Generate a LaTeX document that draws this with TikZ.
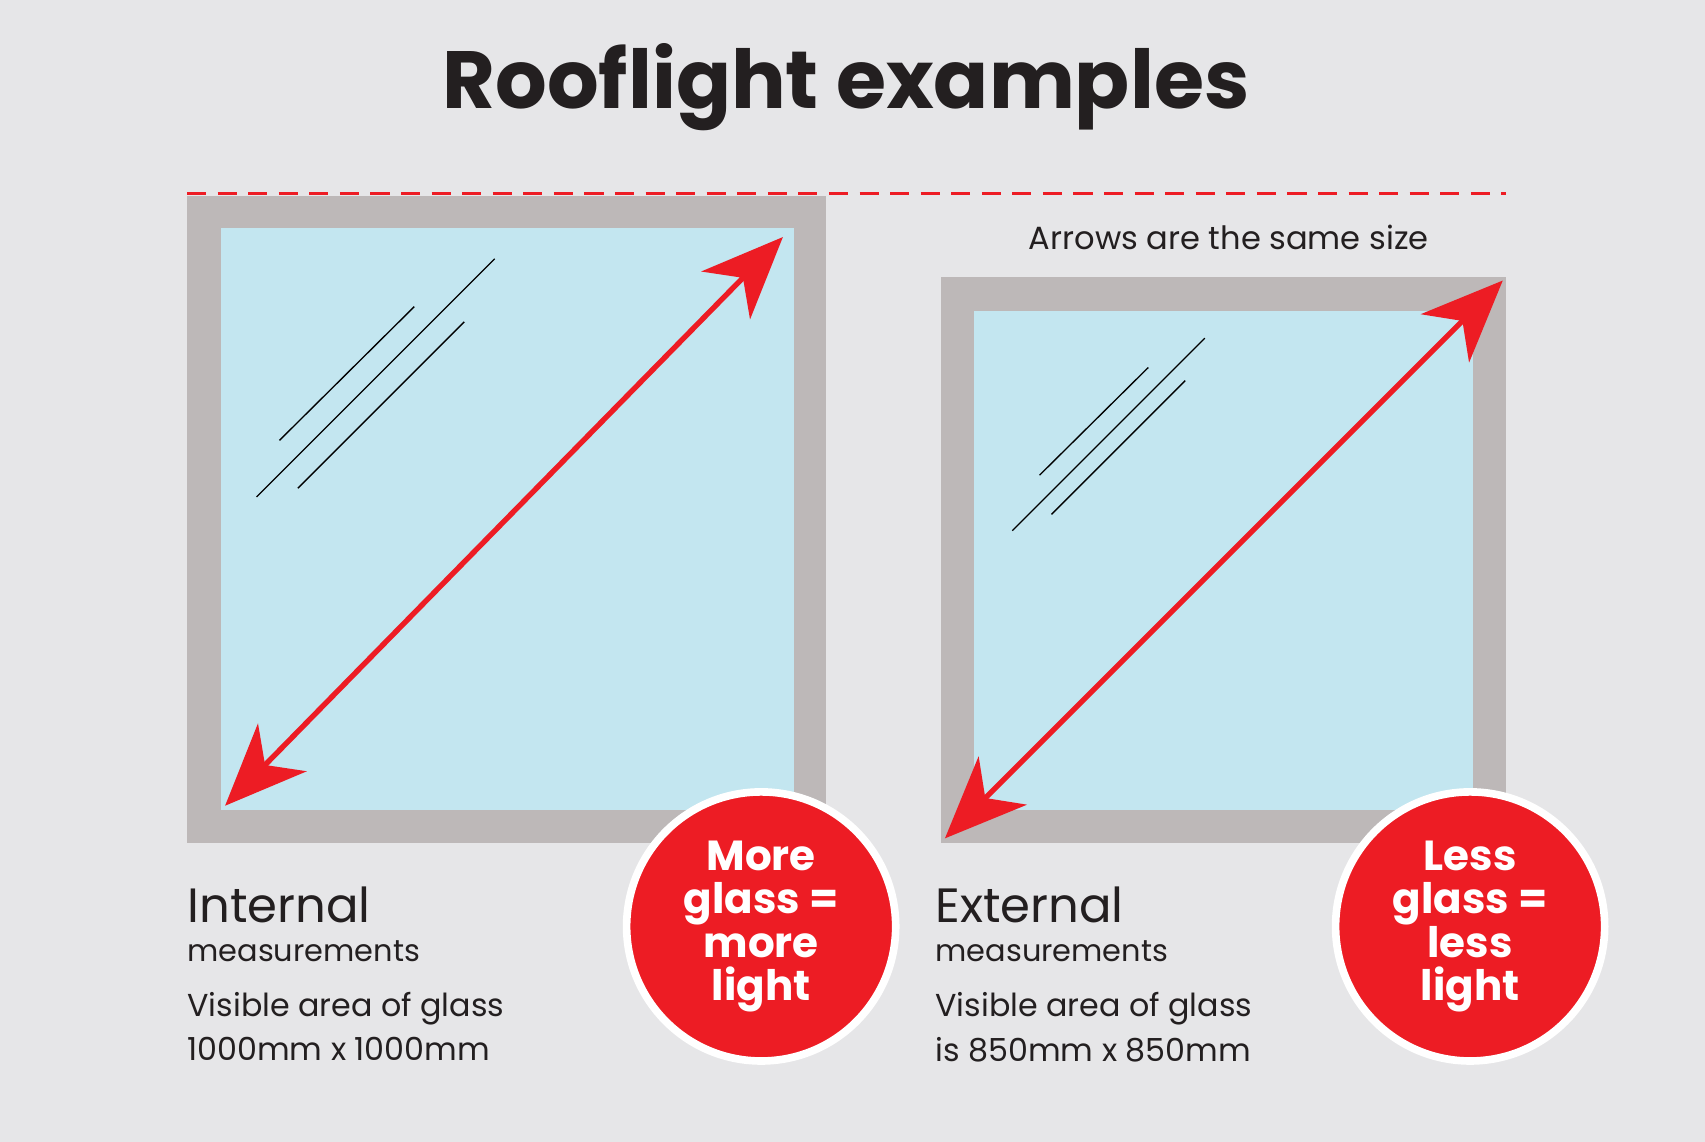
\documentclass[tikz,border=0pt]{standalone}
\usepackage{fontspec}
\setmainfont{Poppins}
\usetikzlibrary{arrows.meta}
\definecolor{bg}{HTML}{E6E6E8}
\definecolor{frame}{HTML}{BDB8B8}
\definecolor{glass}{HTML}{C3E6F0}
\definecolor{rd}{HTML}{ED1C24}
\definecolor{ink}{HTML}{231F20}
\newcommand{\fs}[1]{\fontsize{#1}{#1}\selectfont}
\tikzset{
 redarrow/.style={draw=rd,line width=2.8pt,{Stealth[length=1.5cm,width=1.25cm,inset=0.45cm]}-{Stealth[length=1.5cm,width=1.25cm,inset=0.45cm]}},
 gline/.style={draw=black,line width=0.7pt},
 badge/.style={circle,fill=rd,draw=white,line width=4pt,minimum size=4.95cm,text=white,align=center,font=\fontsize{22}{22.7}\selectfont\bfseries,inner sep=0pt},
 lbl/.style={anchor=west,text=ink,inner sep=0pt}
}
\begin{document}
\begin{tikzpicture}[x=0.02cm,y=-0.02cm]
\fill[bg] (0,0) rectangle (1568,1050);
\useasboundingbox (0,0) rectangle (1568,1050);
\node[text=ink,font=\fs{42.5}\bfseries] (title) at (778,80) {Rooflight examples};
\draw[rd,line width=1.8pt,dash pattern=on 10pt off 6pt] (172,178) -- (1385,178);
% left
\fill[frame] (172,180) rectangle (760,775);
\fill[glass] (203,210) rectangle (730,745);
\draw[gline] (257,405)--(381,282) (236,457)--(455,238) (274,449)--(427,296);
\coordinate (la) at (207,741); \coordinate (lb) at (720,218);
\draw[redarrow] (la)--(lb);
% right
\fill[frame] (865,255) rectangle (1385,775);
\fill[glass] (896,286) rectangle (1355,745);
\draw[gline] (956,437)--(1056,338) (931,488)--(1108,311) (967,473)--(1090,350);
\coordinate (ra) at (869,771); \coordinate (rb) at (1382,258);
\draw[redarrow] (ra)--(rb);
\node[text=ink,font=\fs{16.8}] (note) at (1130,218) {Arrows are the same size};
% badges
\node[badge] (more) at (700,852) {More\\glass =\\more\\light};
\node[badge] (less) at (1352,852) {Less\\glass =\\less\\light};
% labels
\node[lbl,font=\fs{25.2}] (int) at (172,832) {Internal};
\node[lbl,font=\fs{15.9}] (intm) at (172,875) {measurements};
\node[lbl,font=\fs{16.6}] (intv) at (172,928) {Visible area of glass};
\node[lbl,font=\fs{16.6}] (intd) at (172,965) {1000mm x 1000mm};
\node[lbl,font=\fs{25.2}] (ext) at (860,832) {External};
\node[lbl,font=\fs{15.9}] (extm) at (860,875) {measurements};
\node[lbl,font=\fs{16.6}] (extv) at (860,928) {Visible area of glass};
\node[lbl,font=\fs{16.6}] (extd) at (860,965) {is 850mm x 850mm};
\end{tikzpicture}
\end{document}
